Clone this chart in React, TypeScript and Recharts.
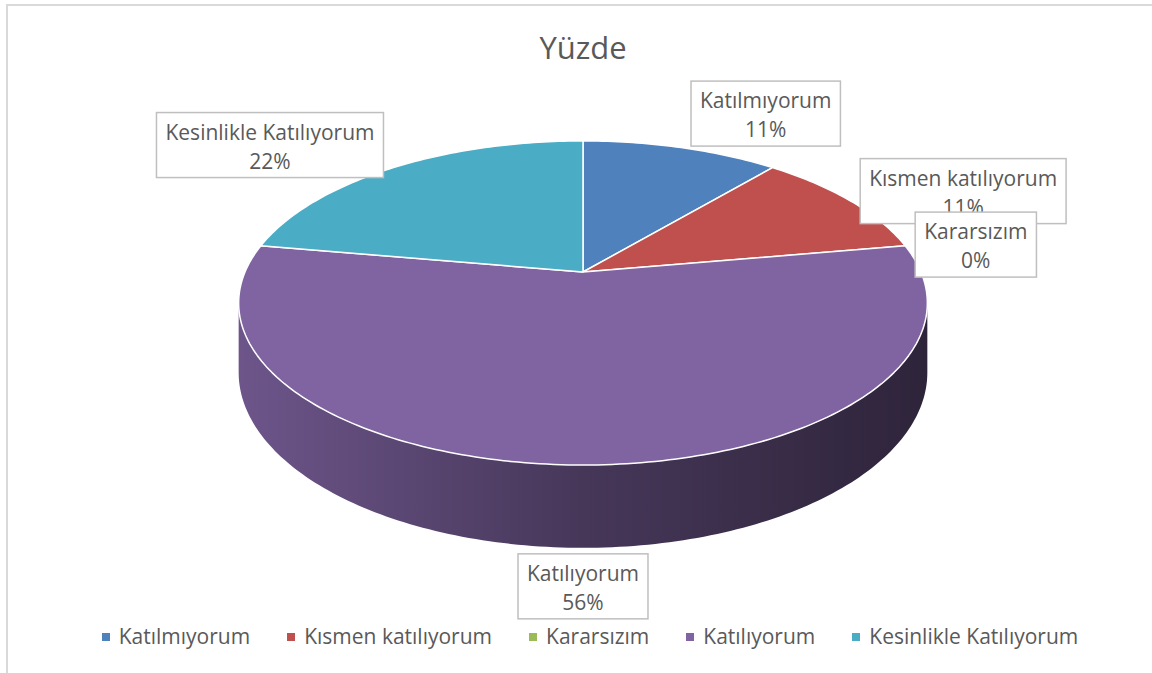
import * as React from "react"
import { PieChart, Pie, Cell, Legend } from "recharts"

const title = "Yüzde"
const categories = ["Katılmıyorum", "Kısmen katılıyorum", "Kararsızım", "Katılıyorum", "Kesinlikle Katılıyorum"]
const counts = [1, 1, 0, 5, 2]
const colors = ["#4F81BD", "#C0504D", "#9BBB59", "#8064A2", "#4BACC6"]

const data = categories.map((name, i) => ({ name, value: counts[i] }))

const FONT = '"Open Sans", "Liberation Sans", sans-serif'
const TEXT = "#595959"
const FS = 21

// fake 3d: tilted disk seen with a bit of perspective
const PERSP = 0.191
const FLAT = 0.462
const DEPTH = 67
const WALL_FROM = (Math.acos(-PERSP) * 180) / Math.PI
const WALL_TO = 360 - WALL_FROM

function project(cx: number, cy: number, r: number, deg: number, drop = 0) {
    const a = (deg * Math.PI) / 180
    const s = 1 / (1 + PERSP * Math.cos(a))
    return [cx + r * Math.sin(a) * s, cy - r * FLAT * Math.cos(a) * s + drop * s]
}

function arc(cx: number, cy: number, r: number, from: number, to: number, drop = 0) {
    const pts: number[][] = []
    const n = Math.max(2, Math.ceil(Math.abs(to - from)))
    for (let i = 0; i <= n; i++) {
        pts.push(project(cx, cy, r, from + ((to - from) * i) / n, drop))
    }
    return pts
}

const toPath = (pts: number[][]) =>
    pts.map((p, i) => `${i ? "L" : "M"}${p[0].toFixed(2)},${p[1].toFixed(2)}`).join(" ") + " Z"

function shade(hex: string, k: number) {
    const n = parseInt(hex.slice(1), 16)
    const c = [(n >> 16) & 255, (n >> 8) & 255, n & 255].map(v => Math.round(v * k))
    return `rgb(${c.join(",")})`
}

let ctx: CanvasRenderingContext2D | null = null
function textWidth(s: string, size: number) {
    if (!ctx) ctx = document.createElement("canvas").getContext("2d")
    if (!ctx) return s.length * size * 0.5
    ctx.font = `${size}px ${FONT}`
    return ctx.measureText(s).width
}

function Slice3D(props: any) {
    const { cx, cy, outerRadius, startAngle, endAngle, fill, index } = props
    let t1 = 90 - startAngle
    let t2 = 90 - endAngle
    if (t2 < t1) [t1, t2] = [t2, t1]
    if (t2 - t1 < 0.01) return <g />

    const top = [[cx, cy], ...arc(cx, cy, outerRadius, t1, t2)]
    const lo = Math.max(t1, WALL_FROM)
    const hi = Math.min(t2, WALL_TO)
    const span = outerRadius / Math.sqrt(1 - PERSP * PERSP)
    const gid = `wall-${index}`

    return (
        <g>
            {hi > lo && (
                <>
                    <defs>
                        <linearGradient id={gid} gradientUnits="userSpaceOnUse" x1={cx - span} x2={cx + span} y1={0} y2={0}>
                            <stop offset="0" stopColor={shade(fill, 0.85)} />
                            <stop offset="0.5" stopColor={shade(fill, 0.55)} />
                            <stop offset="1" stopColor={shade(fill, 0.36)} />
                        </linearGradient>
                    </defs>
                    <path
                        d={toPath([...arc(cx, cy, outerRadius, lo, hi), ...arc(cx, cy, outerRadius, hi, lo, DEPTH)])}
                        fill={`url(#${gid})`}
                        stroke="none"
                    />
                </>
            )}
            <path d={toPath(top)} fill={fill} stroke="#fff" strokeWidth={1.5} strokeLinejoin="round" />
        </g>
    )
}

function renderLabel(props: any) {
    const { cx, cy, outerRadius, midAngle, name, percent } = props
    const t = (((90 - midAngle) % 360) + 360) % 360
    const a = (t * Math.PI) / 180
    const front = t > WALL_FROM && t < WALL_TO
    const [px, py] = project(cx, cy, outerRadius, t, front ? DEPTH : 0)
    const dx = Math.sin(a)
    const dy = -Math.cos(a)
    const pct = `${Math.round(percent * 100)}%`
    const w = Math.max(textWidth(name, FS), textWidth(pct, FS)) + 18
    const h = 65
    const bx = px + Math.sign(dx) * (w / 2 + 10) * Math.min(1, Math.abs(dx) * 4)
    const by = py + Math.sign(dy) * dy * dy * (h / 2 + 6)
    const x0 = bx - w / 2
    const y0 = by - h / 2
    return (
        <g>
            <rect x={x0} y={y0} width={w} height={h} fill="#fff" stroke="#bfbfbf" strokeWidth={1.5} />
            <text x={bx} y={y0 + 27} textAnchor="middle" fontFamily={FONT} fontSize={FS} fill={TEXT}>
                {name}
            </text>
            <text x={bx} y={y0 + 56} textAnchor="middle" fontFamily={FONT} fontSize={FS} fill={TEXT}>
                {pct}
            </text>
        </g>
    )
}

const renderLegend = () => (
    <div
        style={{
            display: "flex",
            justifyContent: "center",
            fontFamily: FONT,
            fontSize: FS,
            lineHeight: "27px",
            color: TEXT,
            whiteSpace: "nowrap",
        }}
    >
        {categories.map((c, i) => (
            <span
                key={c}
                style={{ display: "inline-flex", alignItems: "center", marginRight: i < categories.length - 1 ? 37 : 0 }}
            >
                <span style={{ display: "inline-block", width: 8, height: 8, background: colors[i], marginRight: 9 }} />
                {c}
            </span>
        ))}
    </div>
)

export default function App() {
    return (
        <div style={{ position: "absolute", left: 0, top: 0, width: 1152, height: 673, overflow: "hidden", background: "#fff" }}>
            <div
                style={{
                    position: "absolute",
                    left: 6,
                    top: 4,
                    width: 1170,
                    height: 700,
                    border: "2px solid #d9d9d9",
                    boxSizing: "border-box",
                }}
            />
            <div
                style={{
                    position: "absolute",
                    left: 0,
                    top: 26,
                    width: 1166,
                    textAlign: "center",
                    fontFamily: FONT,
                    fontSize: 31,
                    lineHeight: "42px",
                    color: TEXT,
                }}
            >
                {title}
            </div>
            <div style={{ position: "absolute", left: 0, top: 0 }}>
                <PieChart width={1152} height={673} margin={{ top: 0, right: 0, bottom: 0, left: 0 }}>
                    <Pie
                        data={data}
                        dataKey="value"
                        nameKey="name"
                        cx={583}
                        cy={272}
                        outerRadius={338}
                        startAngle={90}
                        endAngle={-270}
                        stroke="#fff"
                        shape={Slice3D}
                        label={renderLabel}
                        labelLine={false}
                        isAnimationActive={false}
                    >
                        {data.map((d, i) => (
                            <Cell key={d.name} fill={colors[i]} />
                        ))}
                    </Pie>
                    <Legend
                        content={renderLegend}
                        wrapperStyle={{ top: 623, left: 14, width: 1152, bottom: "auto" }}
                    />
                </PieChart>
            </div>
        </div>
    )
}
